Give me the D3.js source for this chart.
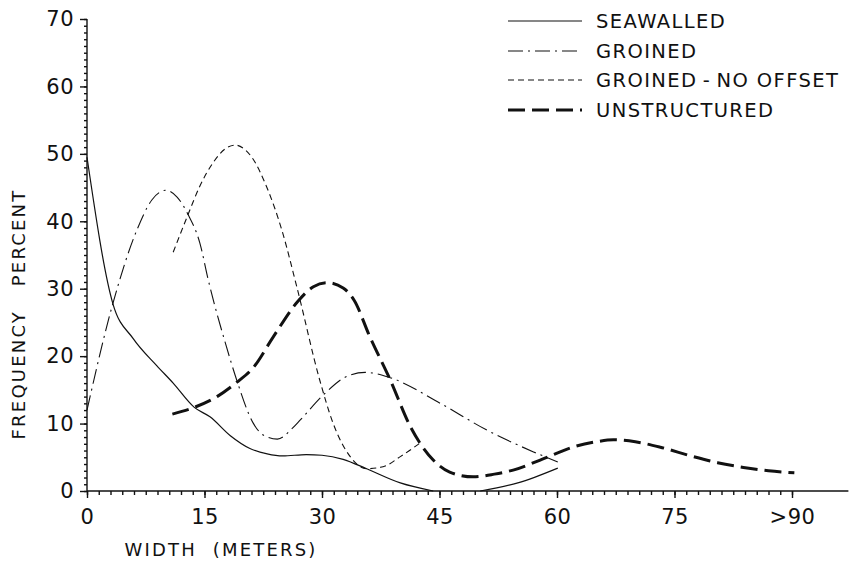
<!DOCTYPE html>
<html>
<head>
<meta charset="utf-8">
<script src="https://cdn.jsdelivr.net/npm/d3@7"></script>
<style>
  body { margin: 0; background: #fff; }
  svg text { font-family: "DejaVu Sans", sans-serif; fill: #111; }
  .axis path, .axis line { stroke: #111; stroke-width: 1.4; }
  .title { font-size: 18px; letter-spacing: 2.2px; white-space: pre; }
  .legend text { font-size: 19.5px; letter-spacing: 1.4px; }
</style>
</head>
<body>
<div id="chart"></div>
<script>
// frequency of beach widths per shoreline type

var seriesNames = ["SEAWALLED", "GROINED", "GROINED\u2009-\u2009NO OFFSET", "UNSTRUCTURED"];

// width (m) / frequency (%), null = gap in the curve
var seawalledW = [0, 3.3, 5.9, 8.9, 11, 13.7, 15.7, 18.3, 20.8, 23, 25, 28, 30, 32.7, 35.7, 40, 44.2, null, 50.2, 55, 60.1];
var seawalledF = [49.5, 27.8, 22.6, 18.6, 16, 12.4, 11.0, 8.2, 6.3, 5.5, 5.2, 5.4, 5.3, 4.7, 3.3, 1.2, 0, null, 0, 1.2, 3.4];

var groinedW = [0, 3.3, 6.4, 8.3, 10.1, 11.5, 12.9, 14.4, 15.5, 17.8, 19.1, 21.2, 22.5, 24.3, 26.3, 27.2, 30.4, 33, 35.5, 38.7, 45.1, 51.1, 57, 60.1];
var groinedF = [12, 27.8, 38.8, 43.2, 44.6, 43.6, 41, 36.8, 31.2, 21.4, 16.5, 10.1, 8.3, 7.7, 9.4, 10.5, 14.5, 16.9, 17.6, 16.8, 13, 9, 5.8, 4.3];

var noOffsetW = [11, 12.9, 14.4, 16.1, 17.6, 18.9, 20.2, 21.1, 22.9, 24.9, 26.8, 29.7, 31.4, 33.6, 35.7, 37.8, 40, 42.5];
var noOffsetF = [35.4, 41, 45.2, 48.7, 50.7, 51.3, 50.6, 49.4, 45.2, 38.6, 30.2, 16.5, 10.1, 5.1, 3.3, 3.6, 5.1, 7.1];

var unstructuredW = [10.9, 13.7, 16.6, 19.1, 21.3, 23.8, 26.9, 28.9, 30.6, 32.7, 34.1, 36.1, 38.7, 41.3, 44.2, 46.3, 49.3, 52, 54.4, 58.7, 62, 65, 67.2, 70, 73.2, 77.4, 80.5, 83.8, 87, 90.3];
var unstructuredF = [11.4, 12.4, 14, 16.1, 18.4, 22.9, 28.1, 30.3, 30.9, 30.1, 28.3, 22.9, 16.5, 9.5, 4.6, 2.8, 2.1, 2.5, 3.1, 5, 6.5, 7.3, 7.6, 7.3, 6.5, 5.1, 4.2, 3.5, 3.0, 2.7];

var xTicks = [0, 15, 30, 45, 60, 75, 90];
var xTickLabels = ["0", "15", "30", "45", "60", "75", ">90"];
var yTicks = [0, 10, 20, 30, 40, 50, 60, 70];

var series = [
  { name: seriesNames[0], w: seawalledW, f: seawalledF },
  { name: seriesNames[1], w: groinedW, f: groinedF },
  { name: seriesNames[2], w: noOffsetW, f: noOffsetF },
  { name: seriesNames[3], w: unstructuredW, f: unstructuredF },
];

// line styles, same order as the series
var styles = [
  { width: 1.2, dash: null },
  { width: 1.1, dash: "15,5,2,5" },
  { width: 1.1, dash: "6,4" },
  { width: 3, dash: "17,7" },
];

var width = 852;
var height = 563;

var svg = d3
  .select("#chart")
  .append("svg")
  .attr("width", width)
  .attr("height", height);

var x = d3.scaleLinear().domain([0, 90]).range([87, 792]);
var y = d3.scaleLinear().domain([0, 70]).range([491, 19]);

// X axis: minor ticks every 1.5 m, labelled every 15 m
svg
  .append("g")
  .attr("class", "axis")
  .attr("transform", `translate(0 ${y(0)})`)
  .call(d3.axisBottom(x).tickValues(d3.range(0, 90.01, 1.5)).tickSize(4).tickFormat(""))
  .call((g) => g.select(".domain").remove());

svg
  .append("g")
  .attr("class", "axis xmaj")
  .attr("transform", `translate(0 ${y(0)})`)
  .call(
    d3
      .axisBottom(x)
      .tickValues(xTicks)
      .tickSize(7)
      .tickPadding(11)
      .tickFormat((d, i) => xTickLabels[i])
  )
  .call((g) => g.select(".domain").remove());

svg
  .append("line")
  .attr("x1", x(0))
  .attr("x2", x(97.2))
  .attr("y1", y(0))
  .attr("y2", y(0))
  .attr("stroke", "#111")
  .attr("stroke-width", 1.4);

// Y axis: minor ticks every 1 %, labelled every 10 %
svg
  .append("g")
  .attr("class", "axis")
  .attr("transform", `translate(${x(0)} 0)`)
  .call(d3.axisLeft(y).tickValues(d3.range(0, 71, 1)).tickSize(3).tickFormat(""))
  .call((g) => g.select(".domain").remove());

svg
  .append("g")
  .attr("class", "axis ymaj")
  .attr("transform", `translate(${x(0)} 0)`)
  .call(d3.axisLeft(y).tickValues(yTicks).tickSize(7).tickPadding(6))
  .call((g) => g.select(".domain").remove());

svg
  .append("line")
  .attr("x1", x(0))
  .attr("x2", x(0))
  .attr("y1", y(0))
  .attr("y2", y(70))
  .attr("stroke", "#111")
  .attr("stroke-width", 1.4);

svg
  .selectAll(".xmaj text, .ymaj text")
  .attr("fill", "#111")
  .style("font-family", '"DejaVu Sans", sans-serif')
  .style("font-size", "21px")
  .style("letter-spacing", "0.5px");

// axis titles
svg
  .append("text")
  .attr("class", "title")
  .attr("x", 221)
  .attr("y", 556)
  .attr("text-anchor", "middle")
  .text("WIDTH  (METERS)");

svg
  .append("text")
  .attr("class", "title")
  .attr("transform", "translate(25 314) rotate(-90)")
  .attr("text-anchor", "middle")
  .text("FREQUENCY   PERCENT");

// curves
var line = d3
  .line()
  .defined((d) => d[1] != null)
  .x((d) => x(d[0]))
  .y((d) => y(d[1]))
  .curve(d3.curveMonotoneX);

series.forEach((s, i) => {
  var pts = s.w.map((w, j) => [w, s.f[j]]);
  svg
    .append("path")
    .datum(pts)
    .attr("d", line)
    .attr("fill", "none")
    .attr("stroke", "#111")
    .attr("stroke-width", styles[i].width)
    .attr("stroke-dasharray", styles[i].dash);
});

// legend
var legendY = [21, 51, 80, 110];
var legend = svg
  .selectAll(".legend")
  .data(series)
  .enter()
  .append("g")
  .attr("class", "legend")
  .attr("transform", (d, i) => `translate(508 ${legendY[i]})`);

legend
  .append("line")
  .attr("x1", 0)
  .attr("x2", 74)
  .attr("stroke", "#111")
  .attr("stroke-width", (d, i) => styles[i].width)
  .attr("stroke-dasharray", (d, i) => styles[i].dash);

legend
  .append("text")
  .attr("x", 88)
  .attr("dy", "0.36em")
  .text((d) => d.name);
</script>
</body>
</html>
